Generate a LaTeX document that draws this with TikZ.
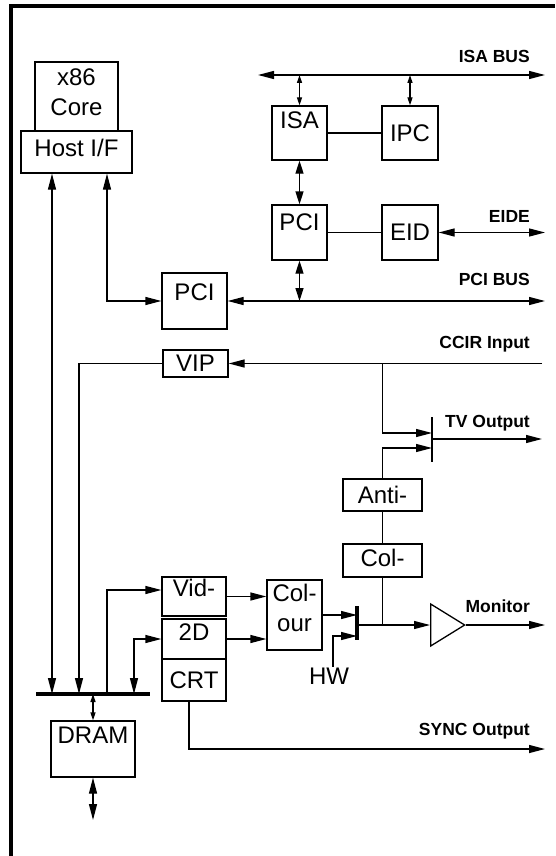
\documentclass[tikz,border=0pt]{standalone}
\usepackage{fontspec}
\setmainfont{Liberation Sans}
\usetikzlibrary{arrows.meta,positioning,shapes.geometric}

\begin{document}
\begin{tikzpicture}[x=1pt,y=-1pt,
    blk/.style={draw, line width=1.3pt, inner sep=0pt, align=center, font=\fontsize{24}{30}\selectfont},
    buslbl/.style={anchor=base east, inner sep=0pt, font=\fontsize{17.5}{20}\selectfont\bfseries},
    wire/.style={line width=1.3pt},
    arr/.style={wire, -{Triangle[length=16pt,width=8pt]}},
    darr/.style={wire, {Triangle[length=16pt,width=8pt]}-{Triangle[length=16pt,width=8pt]}},
    mdarr/.style={wire, {Triangle[length=13pt,width=8pt]}-{Triangle[length=13pt,width=8pt]}},
    sdarr/.style={wire, {Triangle[length=8pt,width=5pt]}-{Triangle[length=8pt,width=5pt]}},
    thickbar/.style={line width=4pt},
    thinbar/.style={line width=1.8pt}]

    \useasboundingbox (0,0) rectangle (555,856);
    \draw[line width=4pt, line join=miter] (11,856) -- (11,6.5) -- (555,6.5);

    \node[blk, minimum width=83pt, minimum height=69pt, text depth=8pt] (core) at (76.5,96.5) {x86\\Core};
    \node[blk, minimum width=111pt, minimum height=42pt, text depth=8pt] (hostif) at (76.5,152) {Host I/F};

    \node[blk, minimum width=55pt, minimum height=54pt, text depth=26pt] (isa) at (299.5,133) {ISA};
    \node[blk, minimum width=56pt, minimum height=54pt] (ipc) at (410,133) {IPC};
    \node[blk, minimum width=55pt, minimum height=55pt, text depth=20pt] (pciu) at (299.5,232.5) {PCI};
    \node[blk, minimum width=56pt, minimum height=55pt] (eid) at (410,232.5) {EID};
    \node[blk, minimum width=65pt, minimum height=56pt, text depth=18pt] (pcih) at (194.5,301) {PCI};

    \node[blk, minimum width=65pt, minimum height=27pt] (vip) at (195.5,363.5) {VIP};
    \node[blk, minimum width=79pt, minimum height=32pt] (anti) at (382.5,495) {Anti-};
    \node[blk, minimum width=79pt, minimum height=33pt, text depth=6pt] (colc) at (382.5,560.5) {Col-};

    \node[blk, minimum width=64pt, minimum height=39pt, text depth=18pt] (vid) at (194,596.5) {Vid-};
    \node[blk, minimum width=64pt, minimum height=40pt, text depth=13pt] (twod) at (194,639) {2D};
    \node[blk, minimum width=64pt, minimum height=42pt] (crt) at (194,680) {CRT};
    \node[blk, minimum width=55pt, minimum height=70pt, text depth=15pt] (colour) at (294.5,615) {Col-\\our};
    \node[blk, minimum width=84pt, minimum height=56pt, text depth=27pt] (dram) at (93,749) {DRAM};
    \node[font=\fontsize{24}{30}\selectfont, inner sep=1pt] (hw) at (329,676) {HW};
    \node[draw, line width=1.3pt, isosceles triangle, isosceles triangle stretches, inner sep=0pt,
        minimum width=42pt, minimum height=34pt, anchor=lower side] (buf) at (430,625) {};

    \coordinate (isaL) at (258,75);
    \coordinate (isaR) at (545,75);
    \coordinate (eide) at (545,232.5);
    \coordinate (pcibusR) at (545,301);
    \coordinate (ccirR) at (542,363.5);
    \coordinate (ccirJ) at (382.5,363.5);
    \coordinate (tvT) at (432,417);
    \coordinate (tvB) at (432,462);
    \coordinate (tvin1) at (432,433);
    \coordinate (tvin2) at (432,448);
    \coordinate (tvout) at (432,439);
    \coordinate (tvR) at (542,439);
    \coordinate (monT) at (357,606);
    \coordinate (monB) at (357,640);
    \coordinate (hwin) at (357,636);
    \coordinate (monout) at (357,625);
    \coordinate (monR) at (545,625);
    \coordinate (dbL) at (36,694);
    \coordinate (dbR) at (150,694);
    \coordinate (dramio) at (93,820);
    \coordinate (syncR) at (545,749);

    \node[buslbl] (isalbl) at (530,63) {ISA BUS};
    \node[buslbl] (eidelbl) at (530,222) {EIDE};
    \node[buslbl] (pcilbl) at (530,285) {PCI BUS};
    \node[buslbl] (ccirlbl) at (530,348) {CCIR Input};
    \node[buslbl] (tvlbl) at (530,427) {TV Output};
    \node[buslbl] (monlbl) at (530,612) {Monitor};
    \node[buslbl] (synclbl) at (530,735) {SYNC Output};

    \draw[darr] (isaL) -- (isaR);
    \draw[sdarr] (isaL -| isa.north) -- (isa.north);
    \draw[sdarr] (isaL -| ipc.north) -- (ipc.north);
    \draw[wire] (isa) -- (ipc);
    \draw[mdarr] (isa) -- (pciu);
    \draw[wire] (pciu) -- (eid);
    \draw[darr] (eid.east) -- (eide);
    \draw[mdarr] (pciu.south) -- (pciu.south |- pcibusR);
    \draw[darr] (pcih.east) -- (pcibusR);
    \draw[darr] ([xshift=30.5pt]hostif.south) |- (pcih.west);
    \draw[darr] ([xshift=-24.5pt]hostif.south) -- ([xshift=-24.5pt]hostif.south |- dbL);

    \draw[arr] (ccirR) -- (vip.east);
    \draw[arr] (vip.west) -| ([xshift=43pt]dbL);
    \draw[arr] (ccirJ) |- (tvin1);
    \draw[thinbar] (tvT) -- (tvB);
    \draw[arr] (tvout) -- (tvR);
    \draw[arr] (anti.north) |- (tvin2);
    \draw[wire] (anti) -- (colc);
    \draw[wire] (colc.south) -- (colc.south |- monout);

    \draw[arr] (vid.east) -- (vid.east -| colour.west);
    \draw[arr] (twod.east) -- (twod.east -| colour.west);
    \draw[arr] (colour.east) -- (colour.east -| monT);
    \draw[thickbar] (monT) -- (monB);
    \draw[arr] ([xshift=4pt]hw.north) |- (hwin);
    \draw[arr] (monout) -- (buf.lower side);
    \draw[arr] (buf.apex) -- (monR);

    \draw[thickbar] (dbL) -- (dbR);
    \draw[arr] ([xshift=71pt]dbL) |- ([yshift=6.5pt]vid.west);
    \draw[darr] (twod.west) -| ([xshift=98pt]dbL);
    \draw[sdarr] (dbL -| dram.north) -- (dram.north);
    \draw[darr] (dram.south) -- (dramio);
    \draw[arr] ([xshift=-5pt]crt.south) |- (syncR);
\end{tikzpicture}
\end{document}
